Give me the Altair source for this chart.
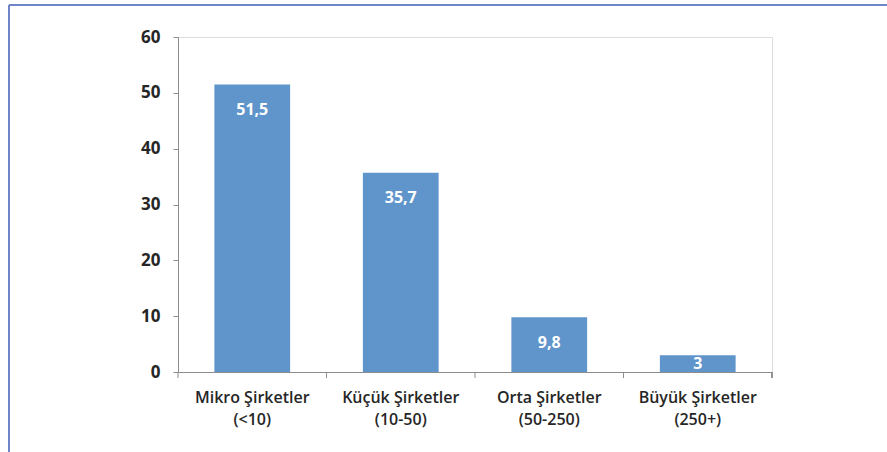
import altair as alt
import pandas as pd

categories = ["Mikro Şirketler\n(<10)", "Küçük Şirketler\n(10-50)",
              "Orta Şirketler\n(50-250)", "Büyük Şirketler\n(250+)"]
values = [51.5, 35.7, 9.8, 3]
labels = ["51,5", "35,7", "9,8", "3"]
y_ticks = [0, 10, 20, 30, 40, 50, 60]

df = pd.DataFrame({"cat": categories, "val": values, "lab": labels})

W, H = 594, 335
FONT = "Open Sans"
BAR = "#5F95CB"
AXC = "#8C8C8C"

xscale = alt.Scale(domain=categories, paddingInner=0, paddingOuter=0)
yscale = alt.Scale(domain=[0, 60], nice=False)

base = alt.Chart(df)

bars = base.mark_bar(color=BAR, width=alt.RelativeBandSize(0.51)).encode(
    x=alt.X("cat:N", scale=xscale, sort=categories, title=None,
            axis=alt.Axis(labelAngle=0, labelExpr="split(datum.label, '\\n')",
                          ticks=False, domainColor=AXC, labelFont=FONT,
                          labelFontSize=16, labelFontWeight=600, labelColor="#262626",
                          labelPadding=17, labelLineHeight=22)),
    y=alt.Y("val:Q", scale=yscale, title=None,
            axis=alt.Axis(values=y_ticks, grid=False, domainColor=AXC, tickColor=AXC,
                          tickSize=5, labelFont=FONT, labelFontSize=17,
                          labelFontWeight="bold", labelColor="#262626",
                          labelPadding=13)),
)

text = base.transform_calculate(
    pos="max(datum.val - 4.6, datum.val / 2)"
).mark_text(color="white", font=FONT, fontWeight="bold", fontSize=16,
            baseline="middle").encode(
    x=alt.X("cat:N", scale=xscale, sort=categories),
    y=alt.Y("pos:Q", scale=yscale),
    text="lab:N",
)

ticks = base.mark_rule(color=AXC).encode(
    x=alt.X("cat:N", scale=xscale, sort=categories, bandPosition=0),
    y=alt.value(H), y2=alt.value(H + 6),
)
end_tick = base.mark_rule(color=AXC).encode(
    x=alt.value(W), y=alt.value(H), y2=alt.value(H + 6),
)

frame_top = base.mark_rule(color="#6F85C8", strokeWidth=2).encode(
    x=alt.value(-169), x2=alt.value(720), y=alt.value(-32),
)
frame_left = base.mark_rule(color="#6F85C8", strokeWidth=2).encode(
    x=alt.value(-169), y=alt.value(-32), y2=alt.value(420),
)

chart = alt.layer(bars, text, ticks, end_tick, frame_top, frame_left).properties(
    width=W, height=H,
    autosize=alt.AutoSizeParams(type="none"),
    padding={"left": 178, "top": 37, "right": 115, "bottom": 80},
).configure_view(stroke=None).configure(background="white")

chart.save("out.html", embed_options={"renderer": "svg", "actions": False})
